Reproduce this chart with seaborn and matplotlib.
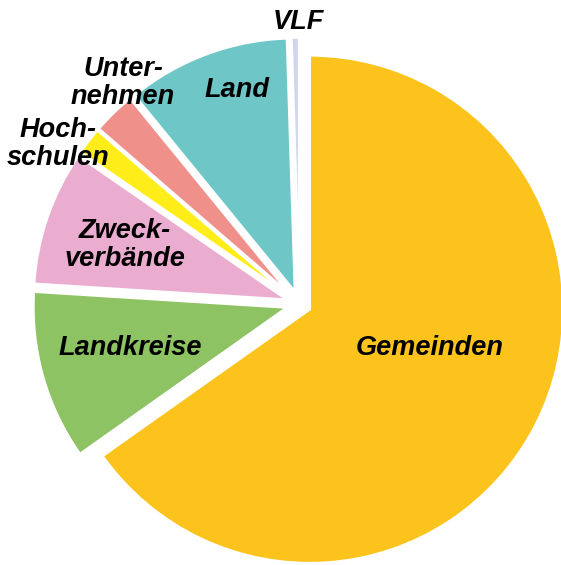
import matplotlib
matplotlib.use('Agg')
import matplotlib.pyplot as plt
import seaborn as sns

labels = ['Gemeinden', 'Landkreise', 'Zweck-\nverbände', 'Hoch-\nschulen', 'Unter-\nnehmen', 'Land', 'VLF']
shares = [65.2, 10.8, 8.6, 1.75, 2.75, 10.4, 0.5]
colors = ['#FBC31C', '#8DC363', '#EBADCF', '#FFED1A', '#F0908A', '#6EC6C6', '#D0D5EA']
explode = [0.045, 0.05, 0.05, 0.05, 0.05, 0.05, 0.05]

# label positions in pixels of the original picture (x, y from top)
label_px = [(430, 348), (130, 348), (125, 245), (58, 144), (123, 83), (237, 90), (298, 22)]

sns.set_theme(style='white')
plt.rcParams['font.family'] = ['Liberation Sans', 'DejaVu Sans']

W, H = 561, 565
cx, cy, r = 299.5, 304.0, 254.0

fig = plt.figure(figsize=(W / 100, H / 100), dpi=100)
ax = fig.add_axes([0, 0, 1, 1])
ax.pie(shares, colors=sns.color_palette(colors), startangle=90, counterclock=False,
       explode=explode, radius=1,
       wedgeprops=dict(edgecolor='white', linewidth=2))

for text, (px, py) in zip(labels, label_px):
    ax.text((px - cx) / r, (cy - py) / r, text, ha='center', va='center',
            fontsize=19.5, fontweight='bold', fontstyle='italic', color='black',
            linespacing=1.1)

ax.set_xlim(-cx / r, (W - cx) / r)
ax.set_ylim(-(H - cy) / r, cy / r)
ax.set_aspect('auto')
ax.axis('off')
fig.savefig('out.png', dpi=100)
